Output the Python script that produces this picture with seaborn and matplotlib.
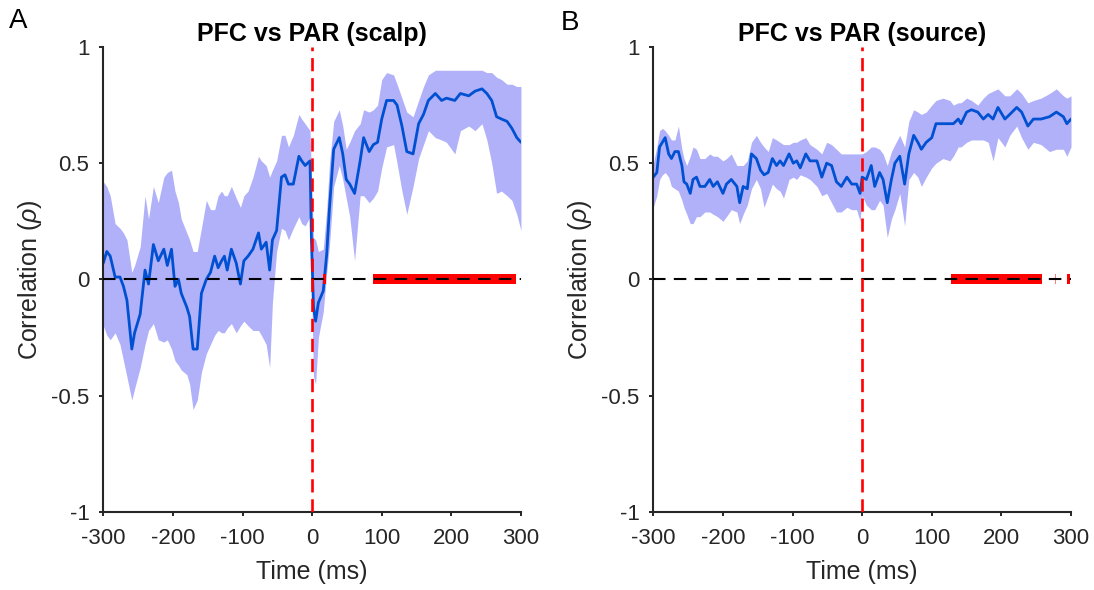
import matplotlib
matplotlib.use("Agg")
import matplotlib.pyplot as plt
import numpy as np
import pandas as pd
import seaborn as sns

# Panel A: PFC vs PAR (scalp) -- mean correlation and band limits
time_a = [-300, -295, -290, -283, -276, -271, -266, -259, -255, -247, -240, -235,
          -228, -221, -213, -208, -202, -197, -192, -188, -180, -176, -171, -165,
          -159, -152, -146, -140, -135, -130, -126, -122, -116, -109, -103, -98,
          -92, -85, -77, -73, -66, -61, -57, -51, -44, -39, -34, -27, -19, -15,
          -10, -3, -1, 2, 5, 9, 16, 21, 25, 31, 39, 44, 49, 54, 61, 69, 74, 82,
          88, 94, 100, 107, 117, 122, 129, 136, 145, 153, 160, 167, 177, 186, 193,
          205, 213, 225, 234, 244, 251, 258, 265, 272, 280, 287, 294, 300]
mean_a = [0.07, 0.12, 0.10, 0.01, 0.01, -0.03, -0.09, -0.30, -0.23, -0.15, 0.04, -0.02,
          0.15, 0.08, 0.13, 0.06, 0.13, -0.03, 0.00, -0.06, -0.12, -0.16, -0.30, -0.30,
          -0.06, 0.00, 0.03, 0.10, 0.05, 0.08, 0.10, 0.04, 0.13, 0.07, -0.02, 0.08,
          0.10, 0.13, 0.20, 0.13, 0.16, 0.04, 0.17, 0.21, 0.44, 0.45, 0.41, 0.41, 0.53, 0.51,
          0.49, 0.51, 0.17, -0.12, -0.18, -0.10, -0.05, 0.11, 0.31, 0.56, 0.61, 0.54, 0.43, 0.41, 0.37, 0.51, 0.61, 0.55,
          0.58, 0.59, 0.69, 0.77, 0.77, 0.75, 0.66, 0.55, 0.54, 0.67, 0.71, 0.77, 0.80, 0.77, 0.78,
          0.77, 0.80, 0.79, 0.81, 0.82, 0.80, 0.77, 0.70, 0.69, 0.68, 0.65, 0.61, 0.59]
lo_a = [-0.20, -0.24, -0.26, -0.23, -0.28, -0.35, -0.42, -0.52, -0.47, -0.38, -0.28, -0.22,
        -0.19, -0.26, -0.27, -0.26, -0.30, -0.35, -0.37, -0.39, -0.41, -0.45, -0.56, -0.52,
        -0.40, -0.32, -0.28, -0.24, -0.22, -0.23, -0.23, -0.21, -0.19, -0.23, -0.20, -0.18,
        -0.20, -0.22, -0.22, -0.24, -0.28, -0.38, -0.10, 0.12, 0.22, 0.21, 0.17, 0.22, 0.27, 0.24,
        0.23, 0.27, 0.00, -0.42, -0.45, -0.25, -0.14, 0.03, 0.15, 0.40, 0.49, 0.43, 0.35, 0.27, 0.08, 0.36, 0.36, 0.33,
        0.35, 0.38, 0.48, 0.57, 0.58, 0.50, 0.38, 0.28, 0.40, 0.52, 0.58, 0.64, 0.61, 0.60, 0.59,
        0.54, 0.64, 0.66, 0.64, 0.67, 0.60, 0.50, 0.37, 0.38, 0.36, 0.34, 0.28, 0.21]
hi_a = [0.42, 0.40, 0.36, 0.24, 0.22, 0.20, 0.17, 0.03, 0.06, 0.14, 0.36, 0.26,
        0.40, 0.33, 0.44, 0.46, 0.47, 0.38, 0.33, 0.26, 0.20, 0.17, 0.12, 0.12,
        0.22, 0.34, 0.30, 0.30, 0.36, 0.38, 0.36, 0.36, 0.40, 0.35, 0.31, 0.36,
        0.38, 0.44, 0.53, 0.51, 0.49, 0.44, 0.47, 0.51, 0.62, 0.62, 0.57, 0.62, 0.71, 0.69,
        0.67, 0.64, 0.45, 0.18, 0.17, 0.12, 0.13, 0.30, 0.50, 0.68, 0.73, 0.66, 0.56, 0.59, 0.64, 0.67, 0.73, 0.72,
        0.73, 0.75, 0.86, 0.89, 0.88, 0.84, 0.78, 0.72, 0.70, 0.77, 0.83, 0.88, 0.90, 0.90, 0.90,
        0.90, 0.90, 0.90, 0.90, 0.90, 0.89, 0.89, 0.87, 0.86, 0.84, 0.84, 0.83, 0.83]
sig_a = [(15, 20), (88, 293)]
sig_thin_a = [84]

# Panel B: PFC vs PAR (source)
time_b = [-300, -295, -291, -287, -283, -278, -274, -269, -264, -259, -256, -252,
          -247, -243, -238, -233, -226, -219, -214, -208, -200, -195, -188, -180,
          -176, -171, -165, -159, -152, -146, -141, -135, -129, -123, -118, -113,
          -105, -99, -94, -89, -81, -75, -65, -58, -51, -44, -37, -30, -22, -15,
          -8, -3, 0, 6, 13, 18, 25, 30, 36, 42, 47, 54, 61, 67, 74, 80, 85, 92,
          100, 106, 116, 126, 131, 138, 142, 150, 157, 166, 174, 181, 188, 195,
          205, 212, 222, 229, 238, 246, 257, 269, 279, 289, 294, 300]
mean_b = [0.44, 0.46, 0.57, 0.59, 0.61, 0.54, 0.52, 0.55, 0.55, 0.49, 0.42, 0.41,
          0.37, 0.43, 0.44, 0.40, 0.40, 0.43, 0.40, 0.42, 0.37, 0.41, 0.43, 0.40,
          0.33, 0.40, 0.39, 0.54, 0.52, 0.47, 0.45, 0.46, 0.52, 0.49, 0.51, 0.49,
          0.54, 0.50, 0.51, 0.48, 0.54, 0.51, 0.51, 0.44, 0.50, 0.49, 0.42, 0.40, 0.44, 0.41,
          0.41, 0.37, 0.44, 0.43, 0.49, 0.40, 0.46, 0.43, 0.33, 0.43, 0.50, 0.53, 0.41, 0.54, 0.62, 0.59, 0.56, 0.59,
          0.61, 0.67, 0.67, 0.67, 0.67, 0.69, 0.67, 0.72, 0.73, 0.72, 0.69, 0.71, 0.69, 0.74,
          0.69, 0.71, 0.74, 0.72, 0.66, 0.69, 0.69, 0.70, 0.72, 0.70, 0.67, 0.69]
lo_b = [0.31, 0.36, 0.43, 0.45, 0.46, 0.44, 0.40, 0.39, 0.38, 0.34, 0.31, 0.28,
        0.24, 0.24, 0.27, 0.27, 0.29, 0.29, 0.28, 0.27, 0.25, 0.27, 0.30, 0.29,
        0.24, 0.28, 0.32, 0.39, 0.43, 0.39, 0.31, 0.36, 0.41, 0.39, 0.38, 0.35,
        0.43, 0.44, 0.43, 0.45, 0.44, 0.43, 0.40, 0.36, 0.37, 0.33, 0.29, 0.29, 0.31, 0.30,
        0.30, 0.25, 0.36, 0.32, 0.30, 0.30, 0.34, 0.32, 0.18, 0.26, 0.30, 0.37, 0.23, 0.43, 0.46, 0.44, 0.40, 0.44,
        0.48, 0.50, 0.52, 0.51, 0.53, 0.57, 0.57, 0.59, 0.60, 0.60, 0.60, 0.59, 0.51, 0.61,
        0.57, 0.62, 0.66, 0.61, 0.56, 0.59, 0.58, 0.55, 0.56, 0.56, 0.53, 0.57]
hi_b = [0.50, 0.57, 0.64, 0.65, 0.64, 0.62, 0.60, 0.60, 0.66, 0.56, 0.52, 0.49,
        0.53, 0.57, 0.56, 0.52, 0.52, 0.54, 0.53, 0.53, 0.51, 0.52, 0.54, 0.49,
        0.49, 0.49, 0.51, 0.59, 0.62, 0.59, 0.57, 0.55, 0.61, 0.60, 0.59, 0.58,
        0.58, 0.59, 0.59, 0.60, 0.61, 0.58, 0.56, 0.54, 0.59, 0.58, 0.56, 0.54, 0.54, 0.54,
        0.54, 0.54, 0.54, 0.55, 0.57, 0.57, 0.56, 0.54, 0.49, 0.55, 0.58, 0.62, 0.57, 0.68, 0.73, 0.72, 0.71, 0.72,
        0.75, 0.77, 0.78, 0.77, 0.75, 0.76, 0.76, 0.78, 0.77, 0.75, 0.78, 0.80, 0.81, 0.82,
        0.79, 0.79, 0.82, 0.80, 0.76, 0.77, 0.78, 0.80, 0.82, 0.79, 0.78, 0.79]
sig_b = [(128, 258), (294, 299)]
sig_thin_b = [110, 277]

titles = ["PFC vs PAR (scalp)", "PFC vs PAR (source)"]
x_ticks = [-300, -200, -100, 0, 100, 200, 300]
y_ticks = [-1, -0.5, 0, 0.5, 1]
y_tick_labels = ["-1", "-0.5", "0", "0.5", "1"]

sns.set_theme(style="ticks")
plt.rcParams["font.family"] = ["Liberation Sans", "DejaVu Sans"]
plt.rcParams["mathtext.fontset"] = "custom"
plt.rcParams["mathtext.it"] = "Liberation Sans:italic"
plt.rcParams["mathtext.rm"] = "Liberation Sans"

BAND = "#b1b1fa"
LINE = "#0050d2"
AXC = "#262626"

fig = plt.figure(figsize=(10.94, 5.90), dpi=100)
ax_a = fig.add_axes([0.0944, 0.1327, 0.3818, 0.7876])
ax_b = fig.add_axes([0.5972, 0.1327, 0.3818, 0.7876])

panels = [
    (ax_a, time_a, mean_a, lo_a, hi_a, sig_a, sig_thin_a),
    (ax_b, time_b, mean_b, lo_b, hi_b, sig_b, sig_thin_b),
]

for i, (ax, t, m, lo, hi, sig, thin) in enumerate(panels):
    df = pd.DataFrame({"time": t, "rho": m})
    ax.fill_between(t, lo, hi, color=BAND, lw=0, zorder=1)
    sns.lineplot(data=df, x="time", y="rho", ax=ax, color=LINE, lw=2.0, zorder=2)
    # significant time windows on the zero line
    for s0, s1 in sig:
        ax.plot([s0, s1], [0, 0], color="red", lw=7.2, solid_capstyle="butt", zorder=3)
    for s in thin:
        ax.plot([s, s + 0.7], [0, 0], color="red", alpha=0.5, lw=7.2,
                solid_capstyle="butt", zorder=3)
    ax.axhline(0, color="black", lw=1.5, dashes=(6, 4), zorder=4)
    ax.axvline(0, color="red", lw=1.9, dashes=(5, 2.6), zorder=5)

    ax.set_xlim(-300, 300)
    ax.set_ylim(-1, 1)
    ax.set_xticks(x_ticks)
    ax.set_xticklabels([str(v) for v in x_ticks])
    ax.set_yticks(y_ticks)
    ax.set_yticklabels(y_tick_labels)
    ax.tick_params(axis="both", labelsize=16, colors=AXC, length=3, width=1.4)
    ax.tick_params(axis="x", pad=9)
    ax.tick_params(axis="y", pad=7)
    for side in ["left", "bottom"]:
        ax.spines[side].set_color(AXC)
        ax.spines[side].set_linewidth(1.5)
    sns.despine(ax=ax)

    ax.set_xlabel("Time (ms)", fontsize=18, color=AXC)
    ax.set_ylabel("Correlation ($\\rho$)", fontsize=18, color=AXC)
    ax.xaxis.set_label_coords(0.5, -0.105)
    ax.yaxis.set_label_coords(-0.142, 0.5)
    ax.set_title(titles[i], fontsize=18, fontweight="bold", color="black", pad=4)

fig.text(0.008, 1 - 28 / 590, "A", fontsize=20, va="baseline", color="black")
fig.text(0.513, 1 - 30 / 590, "B", fontsize=20, va="baseline", color="black")

fig.savefig("out.png", dpi=100)
